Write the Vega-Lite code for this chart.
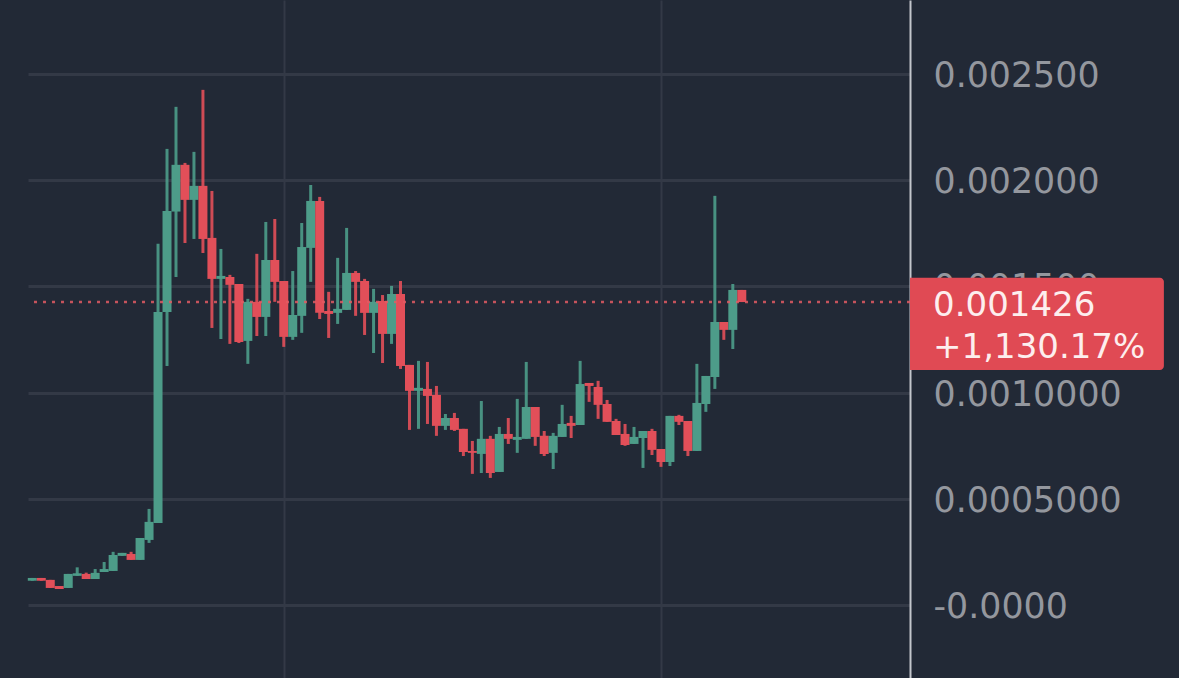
{"$schema":"https://vega.github.io/schema/vega-lite/v6.json","width":882,"height":678,"autosize":{"type":"none"},"padding":{"left":28,"right":269,"top":0,"bottom":0},"background":"#222936","view":{"stroke":null},"config":{"font":"DejaVu Sans"},
"data":{"values":[
{"i":0,"o":0.000114,"h":0.000127,"l":0.000114,"c":0.000127,"d":"up"},
{"i":1,"o":0.000127,"h":0.000127,"l":0.000114,"c":0.000114,"d":"down"},
{"i":2,"o":0.000118,"h":0.000118,"l":0.00008,"c":0.00008,"d":"down"},
{"i":3,"o":0.000089,"h":0.000089,"l":0.000075,"c":0.000075,"d":"down"},
{"i":4,"o":0.00008,"h":0.000146,"l":0.00008,"c":0.000146,"d":"up"},
{"i":5,"o":0.000137,"h":0.000177,"l":0.000137,"c":0.000149,"d":"up"},
{"i":6,"o":0.000146,"h":0.000152,"l":0.000122,"c":0.000122,"d":"down"},
{"i":7,"o":0.000122,"h":0.000169,"l":0.000122,"c":0.000151,"d":"up"},
{"i":8,"o":0.000155,"h":0.000202,"l":0.000155,"c":0.000169,"d":"up"},
{"i":9,"o":0.00016,"h":0.00025,"l":0.00016,"c":0.000235,"d":"up"},
{"i":10,"o":0.000231,"h":0.000245,"l":0.000231,"c":0.000245,"d":"up"},
{"i":11,"o":0.00024,"h":0.00025,"l":0.000212,"c":0.000212,"d":"down"},
{"i":12,"o":0.000212,"h":0.000315,"l":0.000212,"c":0.000315,"d":"up"},
{"i":13,"o":0.000306,"h":0.000452,"l":0.000292,"c":0.000391,"d":"up"},
{"i":14,"o":0.000386,"h":0.0017,"l":0.000386,"c":0.001379,"d":"up"},
{"i":15,"o":0.001379,"h":0.002147,"l":0.001125,"c":0.001855,"d":"up"},
{"i":16,"o":0.001852,"h":0.002345,"l":0.001544,"c":0.002072,"d":"up"},
{"i":17,"o":0.002072,"h":0.002081,"l":0.001704,"c":0.001907,"d":"down"},
{"i":18,"o":0.001907,"h":0.002133,"l":0.001723,"c":0.001973,"d":"up"},
{"i":19,"o":0.001973,"h":0.002425,"l":0.001657,"c":0.001723,"d":"down"},
{"i":20,"o":0.001728,"h":0.001949,"l":0.001304,"c":0.001535,"d":"down"},
{"i":21,"o":0.001535,"h":0.001676,"l":0.001252,"c":0.001549,"d":"up"},
{"i":22,"o":0.001544,"h":0.001554,"l":0.001229,"c":0.001507,"d":"down"},
{"i":23,"o":0.001511,"h":0.001511,"l":0.001233,"c":0.001238,"d":"down"},
{"i":24,"o":0.001243,"h":0.001441,"l":0.001135,"c":0.001427,"d":"up"},
{"i":25,"o":0.001427,"h":0.001653,"l":0.001266,"c":0.001356,"d":"down"},
{"i":26,"o":0.001356,"h":0.001803,"l":0.001266,"c":0.001624,"d":"up"},
{"i":27,"o":0.001624,"h":0.001817,"l":0.001427,"c":0.001521,"d":"down"},
{"i":28,"o":0.001525,"h":0.001525,"l":0.001215,"c":0.001262,"d":"down"},
{"i":29,"o":0.001262,"h":0.001572,"l":0.001248,"c":0.001365,"d":"up"},
{"i":30,"o":0.001361,"h":0.001798,"l":0.001281,"c":0.001685,"d":"up"},
{"i":31,"o":0.001681,"h":0.001977,"l":0.001521,"c":0.001902,"d":"up"},
{"i":32,"o":0.001902,"h":0.001921,"l":0.001346,"c":0.001375,"d":"down"},
{"i":33,"o":0.001384,"h":0.001474,"l":0.001257,"c":0.00137,"d":"down"},
{"i":34,"o":0.001375,"h":0.001634,"l":0.001323,"c":0.001394,"d":"up"},
{"i":35,"o":0.001389,"h":0.001775,"l":0.001389,"c":0.001563,"d":"up"},
{"i":36,"o":0.001563,"h":0.001572,"l":0.001361,"c":0.001521,"d":"down"},
{"i":37,"o":0.001525,"h":0.001535,"l":0.001271,"c":0.001375,"d":"down"},
{"i":38,"o":0.001375,"h":0.001488,"l":0.001186,"c":0.001427,"d":"up"},
{"i":39,"o":0.001431,"h":0.001459,"l":0.001139,"c":0.001276,"d":"down"},
{"i":40,"o":0.001276,"h":0.001502,"l":0.001229,"c":0.001464,"d":"up"},
{"i":41,"o":0.001464,"h":0.001525,"l":0.001111,"c":0.001125,"d":"down"},
{"i":42,"o":0.00113,"h":0.00113,"l":0.000824,"c":0.001008,"d":"down"},
{"i":43,"o":0.001008,"h":0.001149,"l":0.000829,"c":0.001022,"d":"up"},
{"i":44,"o":0.001017,"h":0.001144,"l":0.000852,"c":0.000984,"d":"down"},
{"i":45,"o":0.000989,"h":0.001031,"l":0.000796,"c":0.000843,"d":"down"},
{"i":46,"o":0.000843,"h":0.000899,"l":0.000824,"c":0.00088,"d":"up"},
{"i":47,"o":0.00088,"h":0.000904,"l":0.000819,"c":0.000824,"d":"down"},
{"i":48,"o":0.000829,"h":0.000829,"l":0.000701,"c":0.00072,"d":"down"},
{"i":49,"o":0.000725,"h":0.000772,"l":0.000617,"c":0.000716,"d":"down"},
{"i":50,"o":0.000711,"h":0.00096,"l":0.000621,"c":0.000782,"d":"up"},
{"i":51,"o":0.000782,"h":0.000796,"l":0.000598,"c":0.000621,"d":"down"},
{"i":52,"o":0.000626,"h":0.000838,"l":0.000626,"c":0.000805,"d":"up"},
{"i":53,"o":0.000805,"h":0.00088,"l":0.000758,"c":0.000782,"d":"down"},
{"i":54,"o":0.000777,"h":0.00097,"l":0.000716,"c":0.000791,"d":"up"},
{"i":55,"o":0.000782,"h":0.001144,"l":0.000782,"c":0.000932,"d":"up"},
{"i":56,"o":0.000932,"h":0.000932,"l":0.000749,"c":0.000791,"d":"down"},
{"i":57,"o":0.000796,"h":0.000819,"l":0.000701,"c":0.000711,"d":"down"},
{"i":58,"o":0.000716,"h":0.00081,"l":0.00064,"c":0.000796,"d":"up"},
{"i":59,"o":0.000791,"h":0.000942,"l":0.000791,"c":0.000852,"d":"up"},
{"i":60,"o":0.000857,"h":0.00089,"l":0.000786,"c":0.000843,"d":"down"},
{"i":61,"o":0.000847,"h":0.001149,"l":0.000847,"c":0.00104,"d":"up"},
{"i":62,"o":0.001045,"h":0.001045,"l":0.000956,"c":0.001031,"d":"down"},
{"i":63,"o":0.001026,"h":0.001055,"l":0.000876,"c":0.000942,"d":"down"},
{"i":64,"o":0.000946,"h":0.000965,"l":0.000862,"c":0.000862,"d":"down"},
{"i":65,"o":0.000866,"h":0.000876,"l":0.0008,"c":0.0008,"d":"down"},
{"i":66,"o":0.000805,"h":0.000852,"l":0.000749,"c":0.000753,"d":"down"},
{"i":67,"o":0.000758,"h":0.000838,"l":0.000758,"c":0.000791,"d":"up"},
{"i":68,"o":0.000786,"h":0.000819,"l":0.000645,"c":0.000819,"d":"up"},
{"i":69,"o":0.000819,"h":0.000829,"l":0.000706,"c":0.00073,"d":"down"},
{"i":70,"o":0.000734,"h":0.000734,"l":0.00065,"c":0.000673,"d":"down"},
{"i":71,"o":0.000673,"h":0.00089,"l":0.000654,"c":0.00089,"d":"up"},
{"i":72,"o":0.00089,"h":0.000895,"l":0.000847,"c":0.000862,"d":"down"},
{"i":73,"o":0.000866,"h":0.000866,"l":0.000701,"c":0.000725,"d":"down"},
{"i":74,"o":0.000725,"h":0.001135,"l":0.000725,"c":0.000951,"d":"up"},
{"i":75,"o":0.000946,"h":0.001078,"l":0.000909,"c":0.001078,"d":"up"},
{"i":76,"o":0.001073,"h":0.001926,"l":0.001017,"c":0.001332,"d":"up"},
{"i":77,"o":0.001332,"h":0.001332,"l":0.001248,"c":0.001295,"d":"down"},
{"i":78,"o":0.001295,"h":0.001511,"l":0.001205,"c":0.001483,"d":"up"},
{"i":79,"o":0.001483,"h":0.001483,"l":0.001426,"c":0.001426,"d":"down"}
]},
"layer":[
{"mark":{"type":"rule","strokeWidth":3,"opacity":0.9},
"encoding":{
"x":{"field":"i","type":"quantitative","scale":{"domain":[-0.479,97.73],"nice":false,"zero":false,"padding":0},
"axis":{"orient":"bottom","values":[28,70],"grid":true,"gridColor":"#333946","gridWidth":2,"labels":false,"ticks":false,"domain":false,"title":null}},
"y":{"field":"l","type":"quantitative","scale":{"domain":[-0.000344,0.002848],"nice":false,"zero":false},
"axis":{"orient":"right","values":[0,0.0005,0.001,0.0015,0.002,0.0025],"grid":true,"gridColor":"#333946","gridWidth":3,"ticks":false,"tickSize":0,"domain":true,"domainColor":"#c3c6cc","domainWidth":2,"labelPadding":23,"labelOffset":2.5,"labelFont":"DejaVu Sans","labelFontSize":34.8,"labelColor":"#94979e","labelLimit":400,"labelOverlap":false,"labelBound":false,"labelFlush":false,"title":null,
"labelExpr":"datum.value>=0.0015?format(datum.value,'.6f'):datum.value>0?format(datum.value,'.7f'):'-0.0000'"}},
"y2":{"field":"h"},
"color":{"field":"d","type":"nominal","scale":{"domain":["up","down"],"range":["#4d9c89","#e24f59"]},"legend":null}}},
{"mark":{"type":"bar","size":9},
"encoding":{
"x":{"field":"i","type":"quantitative"},
"y":{"field":"o","type":"quantitative"},
"y2":{"field":"c"},
"color":{"field":"d","type":"nominal","legend":null}}},
{"data":{"values":[{"price":0.001426}]},"mark":{"type":"rule","stroke":"#e25a63","strokeWidth":2.5,"strokeDash":[3,6],"opacity":0.85},
"encoding":{"y":{"field":"price","type":"quantitative"}}},
{"data":{"values":[{"x1":97.73,"x2":126,"y1":0.001106,"y2":0.00154}]},"mark":{"type":"rect","fill":"#e04a54","cornerRadiusTopRight":4,"cornerRadiusBottomRight":4},
"encoding":{"x":{"field":"x1","type":"quantitative"},"x2":{"field":"x2"},"y":{"field":"y1","type":"quantitative"},"y2":{"field":"y2"}}},
{"data":{"values":[{"x":100.3,"y":0.001408,"t":"0.001426"},{"x":100.3,"y":0.00121,"t":"+1,130.17%"}]},"mark":{"type":"text","align":"left","baseline":"middle","font":"DejaVu Sans","fontSize":34,"fill":"#fdeeee"},
"encoding":{"x":{"field":"x","type":"quantitative"},"y":{"field":"y","type":"quantitative"},"text":{"field":"t","type":"nominal"}}}
]}
